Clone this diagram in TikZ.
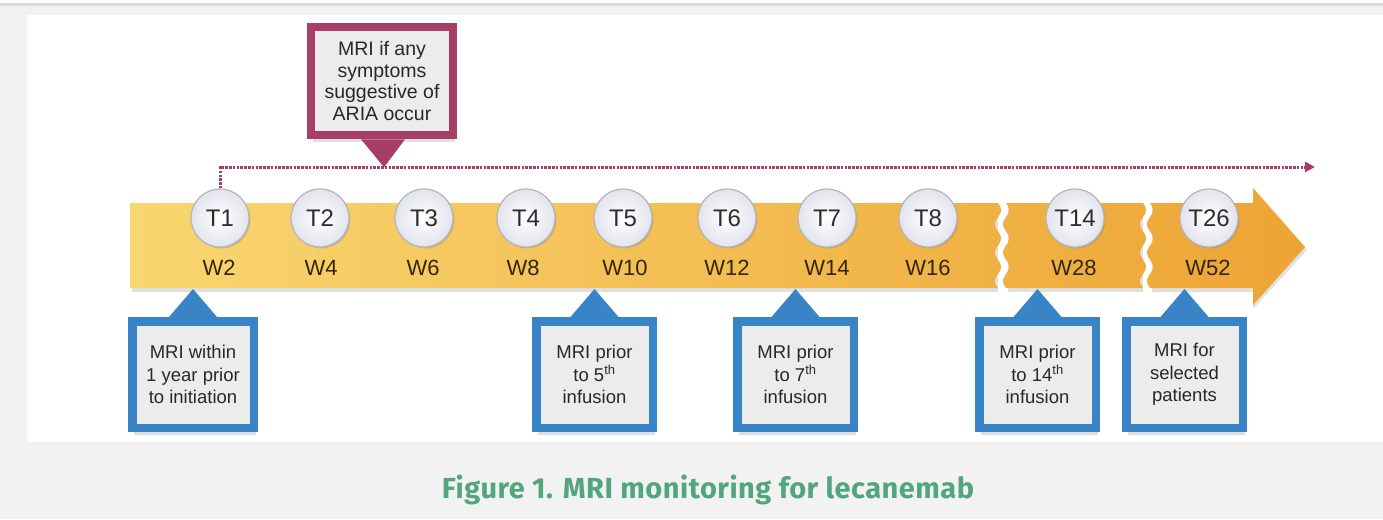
\documentclass[tikz,border=0pt]{standalone}
\usepackage{fontspec}
\setmainfont{Liberation Sans}
\newfontfamily\capfont[LetterSpace=1.7]{Fira Sans}
\usetikzlibrary{arrows.meta,shadows}
\definecolor{bgray}{RGB}{242,242,242}
\definecolor{topline}{RGB}{218,218,218}
\definecolor{mag}{RGB}{166,62,104}
\definecolor{blu}{RGB}{56,132,198}
\definecolor{boxfill}{RGB}{236,236,236}
\definecolor{yel1}{RGB}{249,214,112}
\definecolor{yel2}{RGB}{245,196,62}
\definecolor{yel3}{RGB}{237,164,52}
\definecolor{tealc}{RGB}{82,166,126}
\definecolor{wtext}{RGB}{50,38,10}
\definecolor{ttext}{RGB}{45,45,45}
\definecolor{circline}{RGB}{180,180,188}
\definecolor{circout}{RGB}{226,228,238}
\definecolor{btext}{RGB}{40,40,40}
\begin{document}
\begin{tikzpicture}[x=1pt,y=-1pt,
  tcirc/.style={circle, minimum size=58pt, inner sep=0pt, draw=circline, line width=1.2pt,
    inner color=white, outer color=circout, font=\fontsize{24}{24}\selectfont, text=ttext,
    drop shadow={opacity=0.3, shadow xshift=1.5pt, shadow yshift=-1.5pt}},
  wlab/.style={font=\fontsize{22}{22}\selectfont, text=wtext},
  callbox/.style={line width=8.5pt, fill=boxfill, inner sep=0pt, align=center,
    font=\fontsize{18.5}{22.5}\selectfont, text=btext,
    drop shadow={opacity=0.25, shadow xshift=2pt, shadow yshift=-7pt}},
  bluebox/.style={callbox, draw=blu, minimum width=116.5pt, minimum height=106.5pt},
  magbox/.style={callbox, draw=mag, minimum width=142pt, minimum height=108pt,
    font=\fontsize{19.5}{21.7}\selectfont},
  dotline/.style={mag, line width=3pt, dash pattern=on 2.5pt off 1.3pt, -{Triangle[length=10pt,width=10pt]}}
]
\useasboundingbox (0,0) rectangle (1383,519);
% background
\fill[bgray] (0,0) rectangle (1383,519);
\fill[white] (0,0) rectangle (1383,3);
\fill[topline] (0,3) rectangle (1383,6);
\fill[white] (27,15) rectangle (1383,442);

% band shadow
\fill[black, opacity=0.12] (132,206) rectangle (998,292);
\fill[black, opacity=0.12] (1008,206) rectangle (1143,292);
\fill[black, opacity=0.12] (1152,206) -- (1253,206) -- (1253,191) -- (1307,250) -- (1253,309) -- (1253,292) -- (1152,292) -- cycle;
% band
\shade[left color=yel1, middle color=yel2, right color=yel3]
  (130,203) -- (998,203) -- plot[domain=203:288, samples=40] ({998+3*sin((\x-203)*12.7)},{\x}) -- (130,288) -- cycle
  (1006,203) -- (1143,203) -- plot[domain=203:288, samples=40] ({1143+3*sin((\x-203)*12.7)},{\x})
    -- (1006,288) -- plot[domain=288:203, samples=40] ({1006+3*sin((\x-203)*12.7)},{\x}) -- cycle
  (1150,203) -- (1253,203) -- (1253,188) -- (1305,247) -- (1253,305) -- (1253,288) -- (1150,288)
    -- plot[domain=288:203, samples=40] ({1150+3*sin((\x-203)*12.7)},{\x}) -- cycle;

% time points
\node[tcirc] (T1) at (220,218) {T1};
\node[tcirc] (T2) at (320,218) {T2};
\node[tcirc] (T3) at (424,218) {T3};
\node[tcirc] (T4) at (526,218) {T4};
\node[tcirc] (T5) at (623,218) {T5};
\node[tcirc] (T6) at (727,218) {T6};
\node[tcirc] (T7) at (827,218) {T7};
\node[tcirc] (T8) at (928,218) {T8};
\node[tcirc] (T14) at (1075,218) {T14};
\node[tcirc] (T26) at (1209,218) {T26};

\node[wlab] (W2) at (219,268) {W2};
\node[wlab] (W4) at (321,268) {W4};
\node[wlab] (W6) at (423,268) {W6};
\node[wlab] (W8) at (523,268) {W8};
\node[wlab] (W10) at (625,268) {W10};
\node[wlab] (W12) at (727,268) {W12};
\node[wlab] (W14) at (827,268) {W14};
\node[wlab] (W16) at (928,268) {W16};
\node[wlab] (W28) at (1074,268) {W28};
\node[wlab] (W52) at (1208,268) {W52};

% dotted timeline
\coordinate (dotend) at (1315,167);
\draw[dotline] (T1.north) |- (dotend);

% magenta callout
\node[magbox] (m) at (382,81) {MRI if any\\symptoms\\suggestive of\\ARIA occur};
\fill[mag] ([xshift=-21pt]m.south) -- ([xshift=2pt,yshift=-28pt]m.south) -- ([xshift=23pt]m.south) -- cycle;

% blue callouts
\node[bluebox, minimum width=121.5pt] (b1) at (193,374.5) {MRI within\\1 year prior\\to initiation};
\node[bluebox] (b2) at (594.5,374.5) {MRI prior\\to 5\textsuperscript{th}\\infusion};
\node[bluebox] (b3) at (795.5,374.5) {MRI prior\\to 7\textsuperscript{th}\\infusion};
\node[bluebox] (b4) at (1037.5,374.5) {MRI prior\\to 14\textsuperscript{th}\\infusion};
\node[bluebox] (b5) at (1184.5,374.5) {MRI for\\selected\\patients};
\foreach \b in {b1,b2,b3,b4,b5}{
  \fill[blu] ([xshift=-24pt]\b.north) -- ([yshift=28pt]\b.north) -- ([xshift=24pt]\b.north) -- cycle;
}

% caption
\node[text=tealc, font=\capfont\bfseries\fontsize{29}{29}\selectfont] (cap) at (708,490) {Figure 1. MRI monitoring for lecanemab};
\end{tikzpicture}
\end{document}
